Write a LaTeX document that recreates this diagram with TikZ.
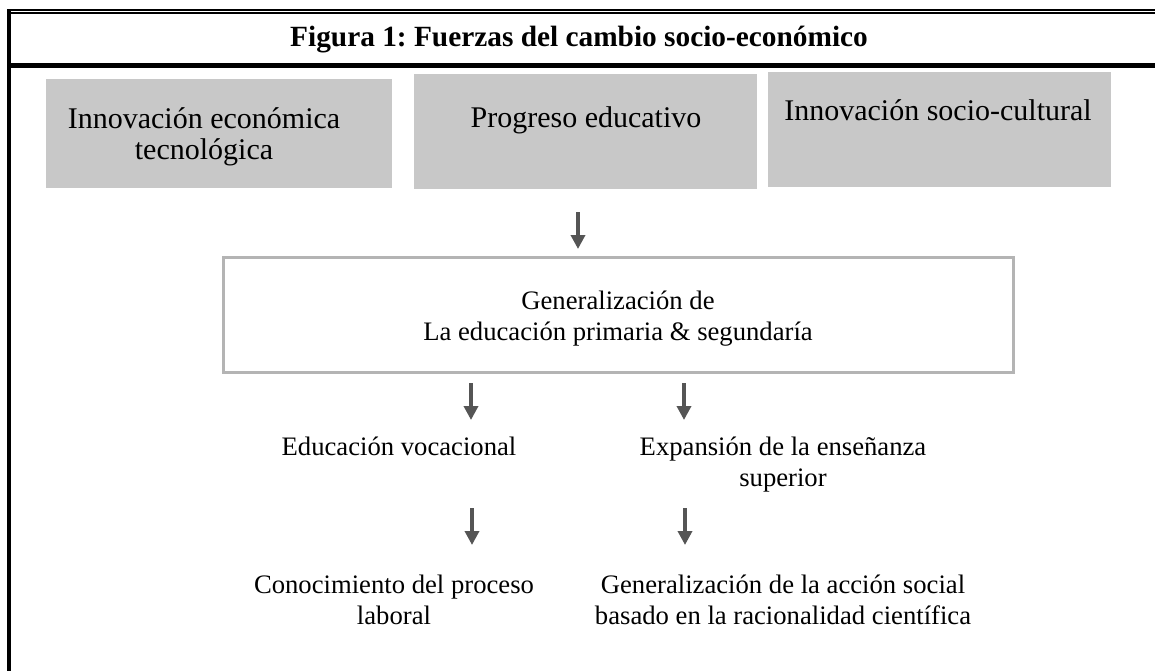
\documentclass[tikz,border=0pt]{standalone}
\usepackage{fontspec}
\setmainfont{Liberation Serif}
\usepackage{tikz}
\usetikzlibrary{arrows.meta}
\definecolor{boxgray}{RGB}{200,200,200}
\definecolor{framegray}{RGB}{180,180,180}
\definecolor{arrowgray}{RGB}{85,85,85}
\frenchspacing

\begin{document}
\begin{tikzpicture}[x=0.75pt,y=-0.75pt,
	force/.style={fill=boxgray,inner sep=0pt,anchor=north west},
	forcetxt/.style={align=center,inner sep=0pt,anchor=base,font=\fontsize{22.5}{23}\selectfont},
	txt/.style={align=center,inner sep=0pt,anchor=base,font=\fontsize{20}{23}\selectfont},
	flow/.style={-{Triangle[length=10.5pt,width=10.5pt]},draw=arrowgray,line width=2.6pt}]
\useasboundingbox (0,0) rectangle (1155,671);

% frame
\draw[line width=1.5pt] (7,10) -- (1155,10);
\draw[line width=1.3pt] (11,13.2) -- (1155,13.2);
\draw[line width=3pt] (9,9) -- (9,671);
\draw[line width=3.3pt] (7,65.5) -- (1155,65.5);
\node[inner sep=0pt,anchor=base,font=\bfseries\fontsize{22}{26}\selectfont] (title) at (579,46) {Figura 1: Fuerzas del cambio socio-económico};

% forces (base anchor = last line)
\node[force,minimum width=259.5pt,minimum height=81.75pt] (eco) at (46,79) {};
\node[force,minimum width=257.25pt,minimum height=86.25pt] (prog) at (414,74) {};
\node[force,minimum width=257.25pt,minimum height=86.25pt] (soc) at (768,72) {};
\node[forcetxt] (ecotxt) at (204,159) {Innovación económica\\tecnológica};
\node[forcetxt] (progtxt) at (586,127) {Progreso educativo};
\node[forcetxt] (soctxt) at (938,120) {Innovación socio-cultural};

\node[draw=framegray,line width=2.25pt,minimum width=592.5pt,minimum height=86.25pt,inner sep=0pt] (gen) at (618,314.5) {};
\node[txt] (gentxt) at (618,340) {Generalización de\\La educación primaria \& segundaría};

\node[txt] (voc) at (399,455) {Educación vocacional};
\node[txt] (sup) at (783,486) {Expansión de la enseñanza\\superior};
\node[txt] (lab) at (394,624) {Conocimiento del proceso\\laboral};
\node[txt] (cien) at (783,624) {Generalización de la acción social\\basado en la racionalidad científica};

% arrows
\foreach \n/\x/\y in {top/578/212, voca/471/383, supa/684/383, laba/472/508, ciena/685/508}
	\draw[flow] (\x,\y) coordinate (\n-s) -- (\x,\y+37) coordinate (\n-e);

\end{tikzpicture}
\end{document}
